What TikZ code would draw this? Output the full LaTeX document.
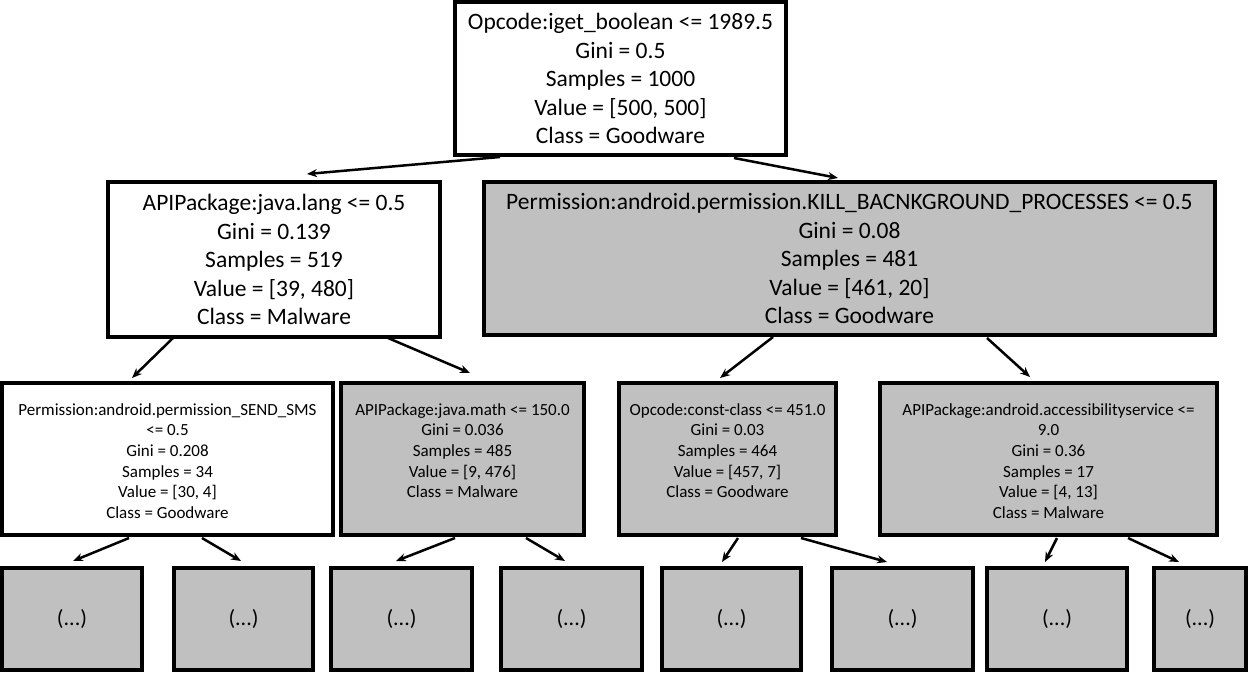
\documentclass[tikz,border=0pt]{standalone}
\usepackage{fontspec}
\setmainfont{Carlito}
\usetikzlibrary{arrows.meta,positioning}
\definecolor{nodegray}{RGB}{192,192,192}
\begin{document}
\begin{tikzpicture}[x=1pt,y=-1pt,
    box/.style={draw,line width=4pt,inner sep=0pt,outer sep=0pt},
    bigtext/.style={font=\fontsize{23.5}{28.5}\selectfont,align=center},
    smalltext/.style={font=\fontsize{17}{20.7}\selectfont,align=center,inner sep=0pt},
    leaf/.style={box,fill=nodegray,minimum height=102pt,font=\fontsize{22}{26}\selectfont},
    edge/.style={line width=2.5pt,-{Stealth[length=10pt,width=8pt]}}]
    \useasboundingbox (0,0) rectangle (1250,680);
    % root and first split
    \node[box,bigtext,minimum width=331pt,minimum height=153pt] (root) at (620.5,78.5)
        {Opcode:iget\_boolean <= 1989.5\\Gini = 0.5\\Samples = 1000\\Value = [500, 500]\\Class = Goodware};
    \node[box,bigtext,minimum width=332pt,minimum height=155pt] (l1a) at (274,259.5)
        {APIPackage:java.lang <= 0.5\\Gini = 0.139\\Samples = 519\\Value = [39, 480]\\Class = Malware};
    \node[box,bigtext,fill=nodegray,minimum width=731pt,minimum height=153pt] (l1b) at (849.5,258.5)
        {Permission:android.permission.KILL\_BACNKGROUND\_PROCESSES <= 0.5\\Gini = 0.08\\Samples = 481\\Value = [461, 20]\\Class = Goodware};
    % second level, text sits at the top of each box
    \node[box,minimum width=331pt,minimum height=152pt] (l2a) at (167.5,459) {};
    \node[smalltext,below=20pt of l2a.north] (l2a-text)
        {Permission:android.permission\_SEND\_SMS\\<= 0.5\\Gini = 0.208\\Samples = 34\\Value = [30, 4]\\Class = Goodware};
    \node[box,fill=nodegray,minimum width=243pt,minimum height=152pt] (l2b) at (462.5,459) {};
    \node[smalltext,below=20pt of l2b.north] (l2b-text)
        {APIPackage:java.math <= 150.0\\Gini = 0.036\\Samples = 485\\Value = [9, 476]\\Class = Malware};
    \node[box,fill=nodegray,minimum width=217pt,minimum height=152pt] (l2c) at (727.5,459) {};
    \node[smalltext,below=20pt of l2c.north] (l2c-text)
        {Opcode:const-class <= 451.0\\Gini = 0.03\\Samples = 464\\Value = [457, 7]\\Class = Goodware};
    \node[box,fill=nodegray,minimum width=337pt,minimum height=152pt] (l2d) at (1048.5,459) {};
    \node[smalltext,below=20pt of l2d.north] (l2d-text)
        {APIPackage:android.accessibilityservice <=\\9.0\\Gini = 0.36\\Samples = 17\\Value = [4, 13]\\Class = Malware};
    % leaves
    \foreach \x/\w [count=\i] in {72/140,243.5/139,401.5/141,571.5/141,731.5/139,902.5/141,1057/140,1200/92}
        \node[leaf,minimum width=\w pt] (leaf\i) at (\x,619) {(...)};
    % edges
    \draw[edge] ([xshift=45pt,yshift=-2pt]root.south west) -- ([xshift=33pt,yshift=8pt]l1a.north);
    \draw[edge] ([xshift=-52pt,yshift=-3pt]root.south east) -- ([xshift=-11.5pt,yshift=4pt]l1b.north);
    \draw[edge] ([xshift=65pt,yshift=-1pt]l1a.south west) -- ([xshift=-35.5pt,yshift=5pt]l2a.north);
    \draw[edge] ([xshift=-52pt,yshift=-1pt]l1a.south east) -- ([xshift=7.5pt,yshift=10pt]l2b.north);
    \draw[edge] ([xshift=-76.5pt,yshift=-2pt]l1b.south) -- ([xshift=-7.5pt,yshift=5pt]l2c.north);
    \draw[edge] ([xshift=137.5pt,yshift=-3pt]l1b.south) -- ([xshift=-18.5pt,yshift=6pt]l2d.north);
    \draw[edge] ([xshift=-38.5pt,yshift=-3pt]l2a.south) -- ([xshift=1pt,yshift=7pt]leaf1.north);
    \draw[edge] ([xshift=34.5pt,yshift=-3pt]l2a.south) -- ([xshift=-2.5pt,yshift=7pt]leaf2.north);
    \draw[edge] ([xshift=-7.5pt,yshift=-3pt]l2b.south) -- ([xshift=-5.5pt,yshift=7pt]leaf3.north);
    \draw[edge] ([xshift=63.5pt,yshift=-3pt]l2b.south) -- ([xshift=-6.5pt,yshift=7pt]leaf4.north);
    \draw[edge] ([xshift=10.5pt,yshift=-3pt]l2c.south) -- ([xshift=-9.5pt,yshift=6pt]leaf5.north);
    \draw[edge] ([xshift=73.5pt,yshift=-3pt]l2c.south) -- ([xshift=-15.5pt,yshift=6pt]leaf6.north);
    \draw[edge] ([xshift=8.5pt,yshift=-3pt]l2d.south) -- ([xshift=-12pt,yshift=6pt]leaf7.north);
    \draw[edge] ([xshift=79.5pt,yshift=-3pt]l2d.south) -- ([xshift=-21pt,yshift=6pt]leaf8.north);
\end{tikzpicture}
\end{document}
